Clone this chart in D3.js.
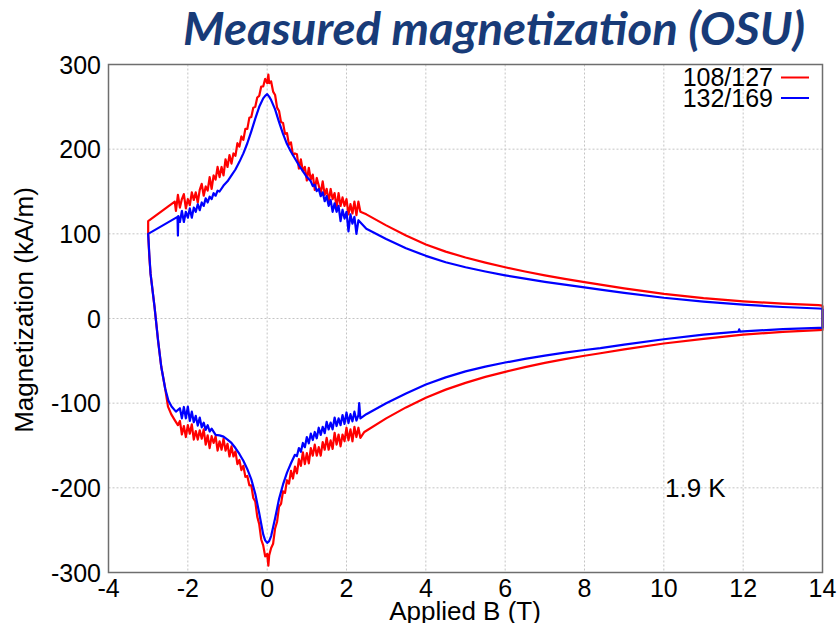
<!DOCTYPE html>
<html>
<head>
<meta charset="utf-8">
<script src="https://cdn.jsdelivr.net/npm/d3@7"></script>
<style>
  body { margin: 0; background: #fff; }
  svg { display: block; }
</style>
</head>
<body>
<svg id="chart" width="837" height="623"></svg>
<script>
// ---- data (B in tesla, M in kA/m) ----
const xTicks = [-4, -2, 0, 2, 4, 6, 8, 10, 12, 14];
const yTicks = [-300, -200, -100, 0, 100, 200, 300];
const seriesNames = ["108/127", "132/169"];
const seriesColors = ["#ff0000", "#0000ff"];

// 108/127, upper branch (field sweeping down), listed by increasing B
const redUpper = [
  [-3, 115], [-2.33, 138], [-2.3, 127], [-2.25, 146], [-2.2, 131], [-2.15, 141], [-2.1, 147],
  [-2.05, 130], [-2, 141], [-1.95, 134], [-1.9, 149], [-1.85, 140], [-1.8, 149], [-1.75, 137],
  [-1.7, 152], [-1.65, 159], [-1.6, 145], [-1.55, 156], [-1.5, 151], [-1.45, 167], [-1.4, 153],
  [-1.35, 169], [-1.3, 164], [-1.25, 179], [-1.2, 167], [-1.15, 179], [-1.1, 169], [-1.05, 188],
  [-1, 179], [-0.95, 193], [-0.9, 183], [-0.85, 195], [-0.8, 192], [-0.75, 207], [-0.7, 203],
  [-0.65, 215], [-0.6, 211], [-0.55, 224], [-0.5, 224], [-0.45, 237], [-0.4, 238], [-0.35, 249],
  [-0.3, 250], [-0.25, 261], [-0.2, 263], [-0.15, 274], [-0.1, 274], [-0.05, 283], [0, 278],
  [0.03, 288], [0.05, 278], [0.1, 280], [0.15, 268], [0.2, 264], [0.25, 249], [0.3, 245],
  [0.35, 232], [0.4, 231], [0.45, 218], [0.5, 219], [0.55, 205], [0.6, 208], [0.65, 193],
  [0.7, 195], [0.75, 194], [0.8, 177], [0.85, 188], [0.9, 174], [0.95, 179], [1, 163],
  [1.05, 178], [1.1, 164], [1.15, 170], [1.2, 152], [1.25, 166], [1.3, 157], [1.35, 148],
  [1.4, 162], [1.45, 146], [1.5, 153], [1.55, 138], [1.6, 153], [1.65, 141], [1.7, 148],
  [1.75, 131], [1.8, 148], [1.85, 133], [1.9, 143], [1.95, 133], [2, 141], [2.05, 123],
  [2.1, 135], [2.15, 124], [2.2, 138], [2.25, 122], [2.3, 138], [2.35, 126], [2.5, 123],
  [3, 110], [3.5, 98], [4, 87.5], [4.5, 79], [5, 72], [5.5, 66], [6, 60.5], [6.5, 55.5],
  [7, 51], [7.5, 46.8], [8, 43], [8.4, 40], [9, 35.5], [10, 29], [11, 24], [12, 20.3],
  [13, 17.5], [13.9, 15.7], [14, 15.3]
];

// 108/127, lower branch (field sweeping up)
const redLower = [
  [-3, 100], [-2.97, 72], [-2.94, 53], [-2.84, 14], [-2.75, -26], [-2.67, -57], [-2.57, -83],
  [-2.5, -104], [-2.42, -113], [-2.33, -120], [-2.25, -126], [-2.2, -121], [-2.15, -137],
  [-2.1, -127], [-2.05, -140], [-2, -126], [-1.95, -136], [-1.9, -125], [-1.85, -143],
  [-1.8, -133], [-1.75, -143], [-1.7, -132], [-1.65, -142], [-1.6, -131], [-1.55, -149],
  [-1.5, -138], [-1.45, -153], [-1.4, -139], [-1.35, -147], [-1.3, -139], [-1.25, -156],
  [-1.2, -145], [-1.15, -155], [-1.1, -142], [-1.05, -156], [-1, -148], [-0.95, -163],
  [-0.9, -151], [-0.85, -163], [-0.8, -157], [-0.75, -172], [-0.7, -167], [-0.65, -179],
  [-0.6, -174], [-0.55, -187], [-0.5, -186], [-0.45, -197], [-0.4, -197], [-0.35, -212],
  [-0.3, -216], [-0.25, -234], [-0.2, -243], [-0.15, -261], [-0.1, -268], [-0.05, -281],
  [0, -278], [0.03, -292], [0.05, -280], [0.1, -271], [0.15, -266], [0.2, -248], [0.25, -240],
  [0.3, -222], [0.35, -219], [0.4, -204], [0.45, -206], [0.5, -191], [0.55, -195], [0.6, -180],
  [0.65, -189], [0.7, -175], [0.75, -183], [0.8, -166], [0.85, -174], [0.9, -158], [0.95, -172],
  [1, -159], [1.05, -171], [1.1, -153], [1.15, -162], [1.2, -149], [1.25, -162], [1.3, -152],
  [1.35, -162], [1.4, -146], [1.45, -155], [1.5, -141], [1.55, -155], [1.6, -144], [1.65, -154],
  [1.7, -135], [1.75, -149], [1.8, -137], [1.85, -151], [1.9, -137], [1.95, -145], [2, -129],
  [2.05, -144], [2.1, -131], [2.15, -145], [2.2, -128], [2.25, -140], [2.3, -129], [2.35, -141],
  [2.45, -134], [3, -118], [3.5, -105], [4, -93.5], [4.5, -84], [5, -76], [5.5, -69],
  [6, -63], [6.5, -57.5], [7, -52.5], [7.5, -48], [8, -44], [8.4, -41], [9, -36.5], [10, -29.5],
  [11, -24], [12, -19], [13, -15.8], [13.9, -13.8], [14, -13.5]
];

// 132/169, upper branch
const blueUpper = [
  [-3, 100], [-2.26, 120], [-2.25, 98], [-2.24, 121], [-2.2, 114], [-2.15, 127], [-2.1, 114],
  [-2.05, 126], [-2, 119], [-1.95, 130], [-1.9, 119], [-1.85, 131], [-1.8, 126], [-1.75, 135],
  [-1.7, 128], [-1.65, 137], [-1.6, 133], [-1.55, 142], [-1.5, 137], [-1.45, 144], [-1.4, 141],
  [-1.35, 148], [-1.3, 145], [-1.25, 151], [-1.2, 150], [-1.1, 157], [-1, 162], [-0.9, 169],
  [-0.8, 176], [-0.7, 185], [-0.6, 195], [-0.5, 207], [-0.4, 221], [-0.3, 236], [-0.2, 250],
  [-0.1, 260], [-0.05, 263], [0, 265], [0.05, 262], [0.1, 258], [0.2, 247], [0.3, 232],
  [0.4, 218], [0.5, 206], [0.6, 197], [0.7, 189], [0.8, 181], [0.9, 174], [1, 167], [1.1, 162],
  [1.15, 156.5], [1.2, 158], [1.25, 150.5], [1.3, 153], [1.35, 144.5], [1.4, 149], [1.45, 138.5],
  [1.5, 144.5], [1.55, 133], [1.6, 140], [1.65, 126], [1.7, 136], [1.75, 126], [1.8, 133],
  [1.85, 115], [1.9, 128.5], [1.95, 118], [2, 126], [2.05, 103], [2.1, 123], [2.15, 112],
  [2.2, 120], [2.25, 100], [2.3, 116], [2.5, 106], [3, 94], [3.5, 83], [4, 74], [4.5, 66.5],
  [5, 60.5], [5.5, 55.5], [6, 51], [6.5, 47], [7, 43.3], [7.5, 40], [8, 36.8], [8.4, 34],
  [9, 30.3], [10, 24.5], [11, 20], [12, 16.3], [13, 13.6], [13.9, 11.8], [14, 11.5]
];

// 132/169, lower branch
const blueLower = [
  [-3, 100], [-2.97, 75], [-2.94, 53], [-2.84, 14], [-2.75, -26], [-2.67, -57], [-2.57, -83],
  [-2.49, -97], [-2.41, -104], [-2.3, -110], [-2.2, -106], [-2.15, -118], [-2.1, -104.5],
  [-2.05, -118], [-2, -104], [-1.95, -121], [-1.9, -110], [-1.85, -122.5], [-1.8, -115],
  [-1.75, -126.5], [-1.7, -117], [-1.65, -128.5], [-1.6, -123], [-1.55, -131.5], [-1.5, -126],
  [-1.45, -133.5], [-1.4, -130], [-1.3, -137.5], [-1.2, -138], [-1.1, -139.5], [-1, -143],
  [-0.9, -147], [-0.8, -153], [-0.7, -160], [-0.6, -168], [-0.5, -178], [-0.4, -190],
  [-0.3, -207], [-0.2, -230], [-0.1, -255], [-0.05, -262], [0, -265], [0.05, -263], [0.1, -257],
  [0.2, -236], [0.3, -213], [0.4, -196], [0.5, -182], [0.6, -171], [0.7, -161], [0.75, -162.5],
  [0.8, -153], [0.85, -157.5], [0.9, -147], [0.95, -152], [1, -140], [1.05, -147.5], [1.1, -136],
  [1.15, -143.5], [1.2, -134], [1.25, -141.5], [1.3, -129], [1.35, -137.5], [1.4, -128],
  [1.45, -135.5], [1.5, -122], [1.55, -131], [1.6, -123], [1.65, -131], [1.7, -117], [1.75, -127],
  [1.8, -118], [1.85, -126], [1.9, -114], [1.95, -124.5], [2, -111], [2.05, -123.5], [2.1, -113],
  [2.15, -121.5], [2.2, -110], [2.25, -120.5], [2.3, -114], [2.32, -100], [2.35, -118],
  [2.5, -113], [3, -100], [3.5, -88.5], [4, -78], [4.5, -69.5], [5, -62.5], [5.5, -56.8],
  [6, -52], [6.5, -47.7], [7, -43.8], [7.5, -40.3], [8, -37.2], [8.4, -35], [9, -30.8],
  [10, -24.5], [11, -19], [11.88, -15.6], [11.9, -12.8], [11.92, -15.5], [12, -15.2],
  [13, -12.6], [13.9, -11.1], [14, -11]
];

const loops = [
  { name: seriesNames[0], color: seriesColors[0], upper: redUpper, lower: redLower },
  { name: seriesNames[1], color: seriesColors[1], upper: blueUpper, lower: blueLower }
];

// ---- layout ----
const PLOT = { left: 108.5, right: 822.5, top: 64.5, bottom: 572.5 };
const FONT = "'Liberation Sans', Arial, sans-serif";

const svg = d3.select("#chart");

const x = d3.scaleLinear().domain([-4, 14]).range([PLOT.left, PLOT.right]);
const y = d3.scaleLinear().domain([-300, 300]).range([PLOT.bottom, PLOT.top]);

// title
svg.append("text")
  .attr("x", 494)
  .attr("y", 45)
  .attr("text-anchor", "middle")
  .attr("font-family", "Lato, 'Open Sans', sans-serif")
  .attr("font-weight", "bold")
  .attr("font-style", "italic")
  .attr("font-size", 45)
  .attr("textLength", 622)
  .attr("lengthAdjust", "spacingAndGlyphs")
  .attr("fill", "#183b78")
  .text("Measured magnetization (OSU)");

// grid (dotted)
const grid = svg.append("g").attr("stroke", "#c4c4c4").attr("stroke-width", 1)
  .attr("stroke-dasharray", "2,2");
grid.selectAll(".gx").data(xTicks.slice(1, -1)).join("line")
  .attr("x1", d => x(d)).attr("x2", d => x(d))
  .attr("y1", PLOT.top).attr("y2", PLOT.bottom);
grid.selectAll(".gy").data(yTicks.slice(1, -1)).join("line")
  .attr("x1", PLOT.left).attr("x2", PLOT.right)
  .attr("y1", d => y(d)).attr("y2", d => y(d));

// curves
const line = d3.line().x(d => x(d[0])).y(d => y(d[1]));
const curveGroup = svg.append("g");
loops.forEach(s => {
  // sweep down along the upper branch, back up along the lower one, then close at 14 T
  const pts = s.upper.slice().reverse().concat(s.lower, [s.upper[s.upper.length - 1]]);
  curveGroup.append("path")
    .datum(pts)
    .attr("d", line)
    .attr("fill", "none")
    .attr("stroke", s.color)
    .attr("stroke-width", 2.2)
    .attr("stroke-linejoin", "round");
});

// frame
svg.append("rect")
  .attr("x", PLOT.left).attr("y", PLOT.top)
  .attr("width", PLOT.right - PLOT.left).attr("height", PLOT.bottom - PLOT.top)
  .attr("fill", "none").attr("stroke", "#6e6e6e").attr("stroke-width", 1.5);

// tick labels
svg.append("g").selectAll("text").data(xTicks).join("text")
  .attr("x", d => x(d))
  .attr("y", 597)
  .attr("text-anchor", "middle")
  .attr("font-family", FONT).attr("font-size", 25).attr("fill", "#000")
  .text(d => d);

svg.append("g").selectAll("text").data(yTicks).join("text")
  .attr("x", 101)
  .attr("y", d => y(d))
  .attr("dy", "0.36em")
  .attr("text-anchor", "end")
  .attr("font-family", FONT).attr("font-size", 25).attr("fill", "#000")
  .text(d => d);

// axis titles
svg.append("text")
  .attr("x", 465).attr("y", 620)
  .attr("text-anchor", "middle")
  .attr("font-family", FONT).attr("font-size", 26).attr("fill", "#000")
  .text("Applied B (T)");

svg.append("text")
  .attr("transform", "translate(33,310) rotate(-90)")
  .attr("text-anchor", "middle")
  .attr("font-family", FONT).attr("font-size", 26).attr("fill", "#000")
  .text("Magnetization (kA/m)");

// legend
const legend = svg.append("g");
loops.forEach((s, i) => {
  const by = 86 + i * 20.5;
  legend.append("text")
    .attr("x", 773).attr("y", by)
    .attr("text-anchor", "end")
    .attr("font-family", FONT).attr("font-size", 25).attr("fill", "#000")
    .text(s.name);
  legend.append("line")
    .attr("x1", 781).attr("x2", 809)
    .attr("y1", by - 8.5).attr("y2", by - 8.5)
    .attr("stroke", s.color).attr("stroke-width", 2);
});

// temperature note
svg.append("text")
  .attr("x", 665).attr("y", 497)
  .attr("font-family", FONT).attr("font-size", 26).attr("fill", "#000")
  .text("1.9 K");
</script>
</body>
</html>
